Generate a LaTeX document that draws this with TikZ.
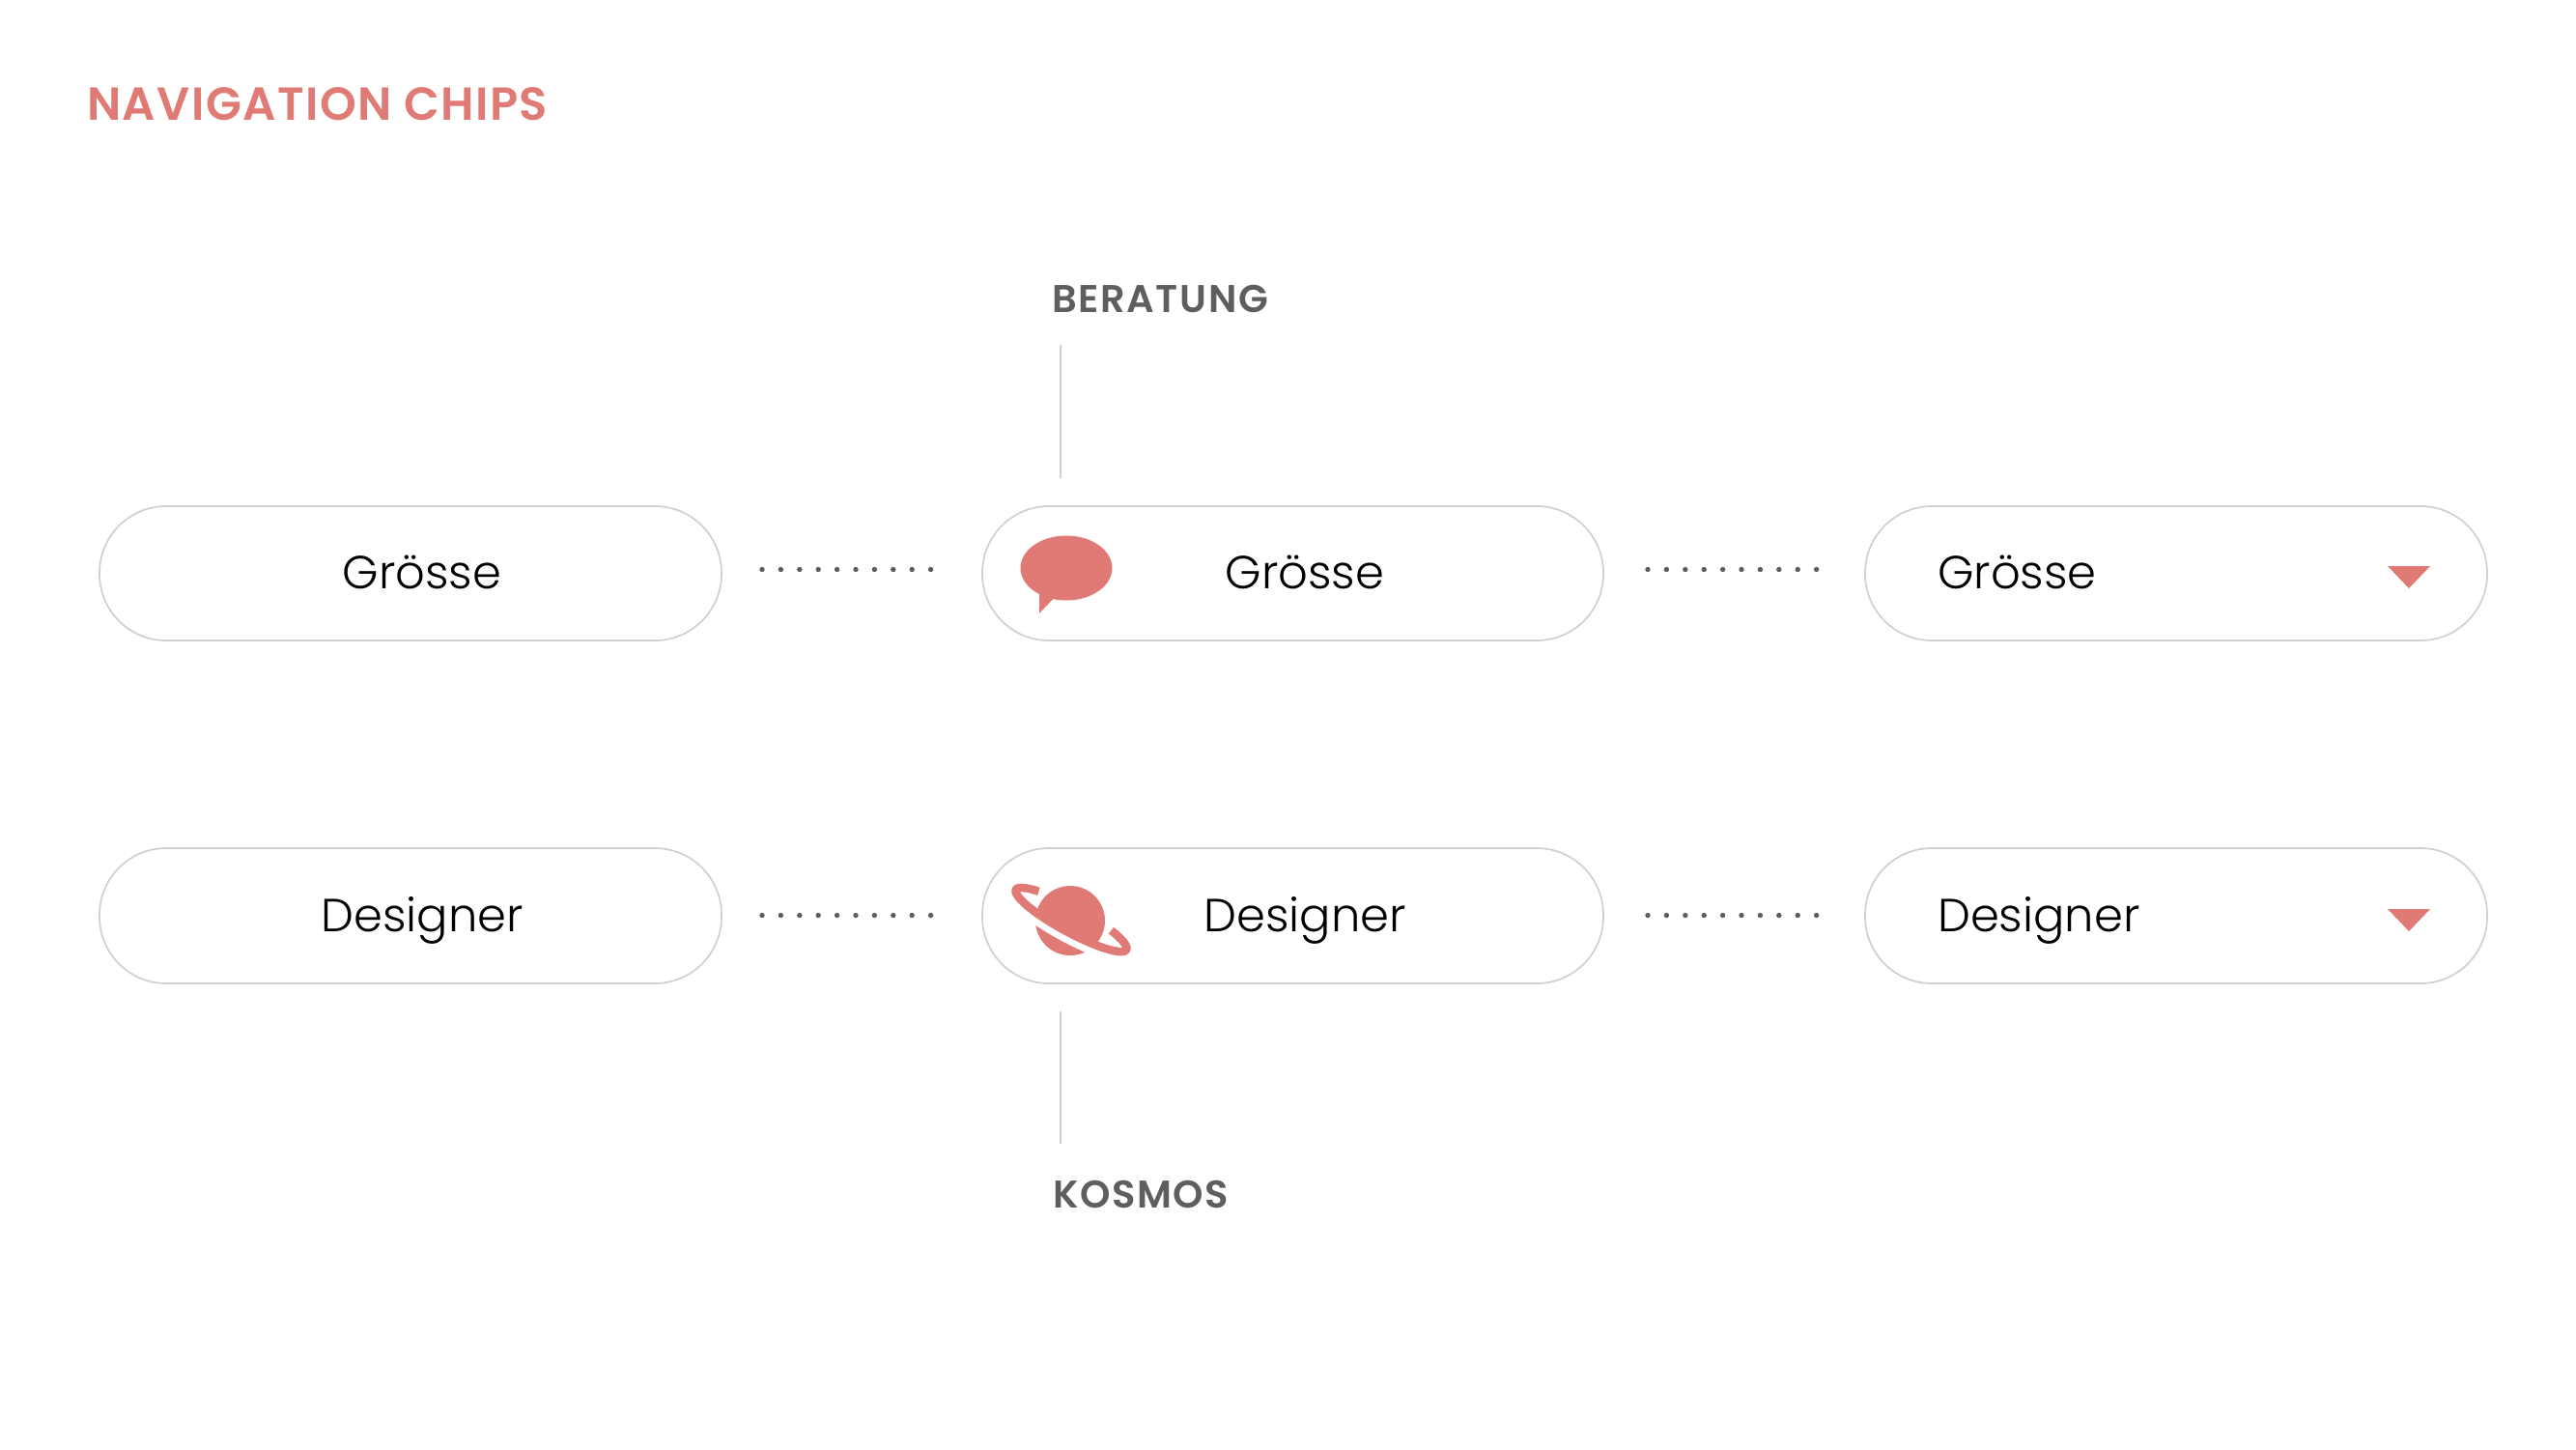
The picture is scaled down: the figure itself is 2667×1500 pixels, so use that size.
\documentclass[tikz,border=0pt]{standalone}
\usepackage{fontspec}
\setmainfont{Poppins}
\newfontfamily\chipfont{Poppins Light}
\newfontfamily\headfont[LetterSpace=4]{Poppins SemiBold}
\newfontfamily\titlefont[LetterSpace=3]{Poppins SemiBold}
\definecolor{coral}{HTML}{E07A75}
\definecolor{chipline}{HTML}{D2D0CC}
\definecolor{labelgrey}{HTML}{5E5E5E}
\tikzset{
  chip/.style={draw=chipline,line width=1.7pt,rounded corners=69pt,fill=white},
  chiptext/.style={anchor=base,inner sep=0,font=\chipfont\fontsize{48}{48}\selectfont,text=black},
  headtext/.style={anchor=base west,inner sep=0,font=\headfont\fontsize{40}{40}\selectfont,text=labelgrey},
  lead/.style={draw=chipline,line width=1.5pt},
  dotrow/.style={draw=none,fill=labelgrey},
}
\begin{document}
\begin{tikzpicture}[x=1pt,y=-1pt]
\useasboundingbox (0,0) rectangle (2667,1500);
\node[anchor=base west,inner sep=0,font=\titlefont\fontsize{48}{48}\selectfont,text=coral] (title) at (90,124) {NAVIGATION CHIPS};
\foreach \nm/\xa/\xb/\ya/\yb in {a/103/747/524/663,b/1017/1660/524/663,c/1931/2575/524/663,d/103/747/878/1018,e/1017/1660/878/1018,f/1931/2575/878/1018}{
  \draw[chip] (\xa,\ya) rectangle (\xb,\yb);
}
\node[chiptext] (t1) at (437,609) {Grösse};
\node[chiptext] (t2) at (1351,609) {Grösse};
\node[chiptext,anchor=base west] (t3) at (2006,609) {Grösse};
\node[chiptext] (t4) at (437,964) {Designer};
\node[chiptext] (t5) at (1351,964) {Designer};
\node[chiptext,anchor=base west] (t6) at (2006,964) {Designer};
\foreach \y in {589.5,947.5}{
  \foreach \i in {0,...,9}{
    \fill[dotrow] ({789+\i*19.4},\y) circle (2.7);
    \fill[dotrow] ({1706+\i*19.4},\y) circle (2.7);
  }
}
% dropdown triangles
\fill[coral] (2472,586) -- (2516,586) -- (2494,609) -- cycle;
\fill[coral] (2472,941) -- (2516,941) -- (2494,964) -- cycle;
% speech bubble
\fill[coral] (1104,588) ellipse (47.5 and 33.5);
\fill[coral] (1076,610) -- (1076,635) -- (1094,616) -- cycle;
% planet
\fill[coral] (1108,953) circle (36);
\begin{scope}[shift={(1109,952)},rotate=-28.5]
\draw[white,line width=9pt] plot[domain=0:180,samples=60] ({65*cos(\x)},{13*sin(\x)+6.5});
\draw[coral,line width=8.5pt] plot[domain=-50:228,samples=80] ({65*cos(\x)},{13*sin(\x)});
\end{scope}
\node[headtext] (beratung) at (1089,323) {BERATUNG};
\node[headtext] (kosmos) at (1090,1250) {KOSMOS};
\coordinate (bt) at (1098,357);
\coordinate (bb) at (1098,495);
\coordinate (kt) at (1098,1047);
\coordinate (kb) at (1098,1184);
\draw[lead] (bt) -- (bb);
\draw[lead] (kt) -- (kb);
\end{tikzpicture}
\end{document}
